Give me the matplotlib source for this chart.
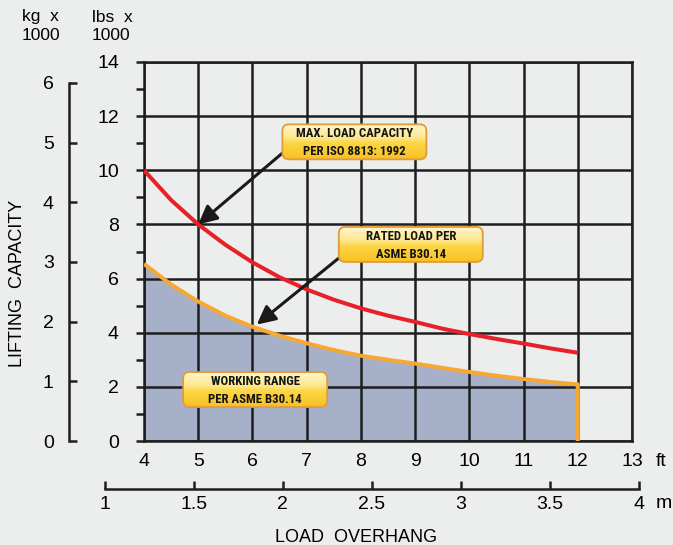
import numpy as np
import matplotlib.pyplot as plt
from matplotlib.patches import FancyBboxPatch
from matplotlib.colors import LinearSegmentedColormap

plt.rcParams['font.family'] = ['Liberation Sans', 'DejaVu Sans']

# ---- data (ft / lbs x 1000) ----
overhang_ft = [4, 4.5, 5, 5.5, 6, 6.5, 7, 7.5, 8, 8.5, 9, 9.5, 10, 10.5, 11, 11.5, 12]
max_capacity = [10, 8.9, 8.0, 7.25, 6.6, 6.05, 5.6, 5.22, 4.9, 4.63, 4.4, 4.15, 3.95, 3.77, 3.6, 3.42, 3.26]
rated_load = [6.54, 5.78, 5.15, 4.63, 4.22, 3.89, 3.61, 3.36, 3.15, 3.0, 2.86, 2.7, 2.55, 2.41, 2.29, 2.18, 2.09]

ft_ticks = [4, 5, 6, 7, 8, 9, 10, 11, 12, 13]
lbs_ticks = [0, 2, 4, 6, 8, 10, 12, 14]
lbs_minor = [1, 3, 5, 7, 9, 11, 13]
kg_ticks = [0, 1, 2, 3, 4, 5, 6]
m_ticks = [1, 1.5, 2, 2.5, 3, 3.5, 4]
m_labels = ['1', '1.5', '2', '2.5', '3', '3.5', '4']

box_labels = ['MAX. LOAD CAPACITY\nPER ISO 8813: 1992',
              'RATED LOAD PER\nASME B30.14',
              'WORKING RANGE\nPER ASME B30.14']
box_centers = [(7.88, 11.05), (8.92, 7.26), (6.05, 1.90)]
arrow_tails = [(6.62, 10.75), (7.65, 6.85)]
arrow_heads = [(5.0, 8.0), (6.08, 4.3)]

LBS_PER_KG = 2.2046
FT_PER_M = 3.2808

bg = '#eceeed'
W, H = 673, 545
def fx(px): return px / W
def fy(py): return 1 - py / H

fig = plt.figure(figsize=(W / 100, H / 100), dpi=100, facecolor=bg)

# main grid axes: 4..13 ft, 0..14 lbs
x0, x1, ytop, ybot = 144, 632, 62, 441
ax = fig.add_axes([fx(x0), fy(ybot), (x1 - x0) / W, (ybot - ytop) / H])
ax.set_facecolor(bg)
ax.set_axisbelow('line')

ax.fill_between(overhang_ft, rated_load, 0, color='#a6b0c9', lw=0, zorder=1)
ax.plot(overhang_ft, max_capacity, color='#e8202a', lw=2.9, zorder=3, solid_capstyle='butt')
ax.plot(overhang_ft + [overhang_ft[-1]], rated_load + [0], color='#f7a833', lw=2.9, zorder=3,
        solid_capstyle='butt')

ax.set_xticks(ft_ticks)
ax.set_yticks(lbs_ticks)
ax.set_yticks(lbs_minor, minor=True)
ax.grid(True, which='major', color='#1e1e1e', lw=1.8)
ax.tick_params(axis='x', length=0, pad=9, labelsize=14)
ax.tick_params(axis='y', which='both', direction='out', length=6, width=1.8, pad=12,
               labelsize=14, color='#1e1e1e')
for s in ax.spines.values():
    s.set_linewidth(1.8)
    s.set_color('#1e1e1e')

# arrows
for tail, head in zip(arrow_tails, arrow_heads):
    ax.annotate('', xy=head, xytext=tail, zorder=4,
                arrowprops=dict(arrowstyle='-|>,head_length=0.8,head_width=0.4',
                                mutation_scale=14, lw=2.2, color='#1a1a1a',
                                shrinkA=0, shrinkB=0))

# yellow label boxes with a vertical gradient
box_cmap = LinearSegmentedColormap.from_list(
    'boxgrad', [(0, '#fff6cf'), (0.42, '#fde78a'), (0.55, '#fcd645'), (1, '#f8c124')])
grad = np.linspace(0, 1, 100).reshape(-1, 1)
bw, bh = 2.656, 1.293
narrow = ['Liberation Sans Narrow', 'Roboto Condensed', 'DejaVu Sans Condensed',
          'Open Sans Condensed', 'Liberation Sans']
for (cx, cy), txt in zip(box_centers, box_labels):
    patch = FancyBboxPatch((cx - bw / 2, cy - bh / 2), bw, bh,
                           boxstyle='round,pad=0,rounding_size=0.12', mutation_aspect=2.0,
                           fc='none', ec='#e39a3a', lw=1.3, zorder=6)
    ax.add_patch(patch)
    im = ax.imshow(grad, extent=(cx - bw / 2, cx + bw / 2, cy - bh / 2, cy + bh / 2),
                   aspect='auto', cmap=box_cmap, origin='upper', zorder=5)
    im.set_clip_path(patch)
    ax.text(cx, cy - 0.03, txt, ha='center', va='center', fontsize=9.2, fontweight='bold',
            fontstretch='condensed', family=narrow, linespacing=1.45, zorder=7,
            color='#141414')

ax.set_xlim(4, 13)
ax.set_ylim(0, 14)

# kg scale on the far left
axk = fig.add_axes([fx(69), fy(ybot), 0.0001, (ybot - ytop) / H])
axk.patch.set_visible(False)
axk.set_ylim(0, 14 / LBS_PER_KG)
for s in ['top', 'right', 'bottom']:
    axk.spines[s].set_visible(False)
axk.spines['left'].set_bounds(0, 6)
axk.spines['left'].set_linewidth(1.8)
axk.spines['left'].set_color('#1e1e1e')
axk.set_xticks([])
axk.set_yticks(kg_ticks)
axk.tick_params(axis='y', direction='in', length=6, width=1.8, pad=11, labelsize=14,
                color='#1e1e1e')

# metre scale below
px_per_ft = (x1 - x0) / 9
m0 = x0 + (1 * FT_PER_M - 4) * px_per_ft
m1 = x0 + (4 * FT_PER_M - 4) * px_per_ft
axm = fig.add_axes([fx(m0), fy(489), (m1 - m0) / W, 0.0001])
axm.patch.set_visible(False)
axm.set_xlim(1, 4)
for s in ['top', 'right', 'left']:
    axm.spines[s].set_visible(False)
axm.spines['bottom'].set_linewidth(1.8)
axm.spines['bottom'].set_color('#1e1e1e')
axm.set_yticks([])
axm.set_xticks(m_ticks)
axm.set_xticklabels(m_labels)
axm.tick_params(axis='x', direction='in', length=6, width=1.8, pad=5, labelsize=14,
                color='#1e1e1e')

# texts
fig.text(fx(22), fy(17), 'kg  x', fontsize=12.5, va='center', ha='left')
fig.text(fx(22), fy(35), '1000', fontsize=12.5, va='center', ha='left')
fig.text(fx(92), fy(17), 'lbs  x', fontsize=12.5, va='center', ha='left')
fig.text(fx(92), fy(35), '1000', fontsize=12.5, va='center', ha='left')
fig.text(fx(18), fy(283), 'LIFTING  CAPACITY', rotation=90, fontsize=13, ha='center', va='center')
fig.text(fx(356), fy(537), 'LOAD  OVERHANG', fontsize=13, ha='center', va='center')
fig.text(fx(656), fy(461), 'ft', fontsize=14, ha='left', va='center')
fig.text(fx(656), fy(503), 'm', fontsize=14, ha='left', va='center')

fig.savefig('out.png', dpi=100, facecolor=bg)
